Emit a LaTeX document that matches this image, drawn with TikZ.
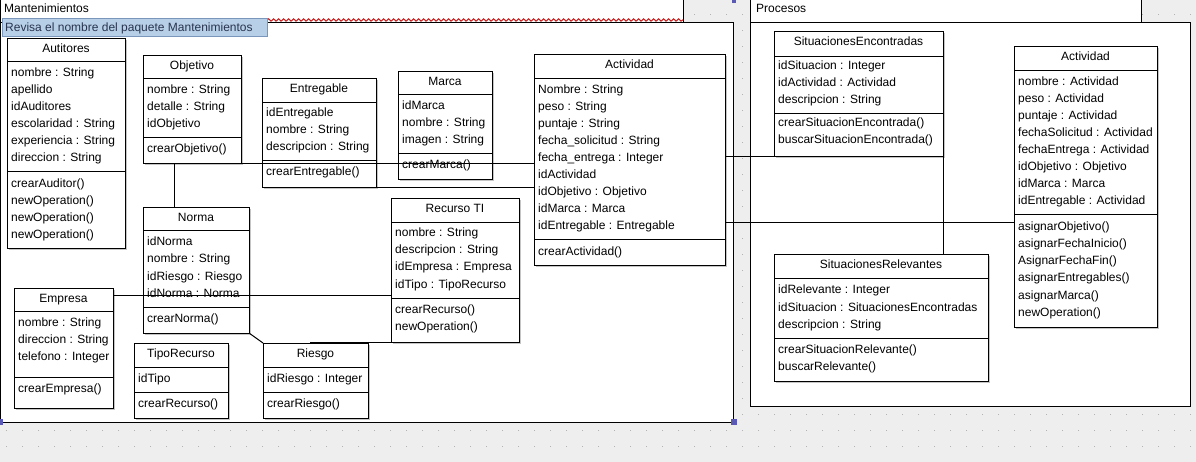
\documentclass[tikz,border=0pt]{standalone}
\usepackage{fontspec}
\setmainfont{Liberation Sans}
\usetikzlibrary{shadows,decorations.pathmorphing,calc}
\definecolor{bgcol}{RGB}{238,238,238}
\definecolor{dotcol}{RGB}{180,180,180}
\definecolor{notefill}{RGB}{184,207,232}
\definecolor{noteline}{RGB}{122,150,186}
\definecolor{notetext}{RGB}{40,52,80}
\definecolor{handle}{RGB}{90,90,180}
\definecolor{wavered}{RGB}{200,30,30}
\tikzset{
  umlfont/.style={font=\fontsize{12}{14}\selectfont},
  classbox/.style={draw=black, line width=1pt, fill=white, inner sep=0pt, outer sep=0pt,
    anchor=north west, drop shadow={shadow xshift=1.5pt, shadow yshift=-1.5pt, fill=black!45, opacity=0.5}},
  sepl/.style={draw=black, line width=1pt},
  rowtext/.style={umlfont, anchor=base west, inner sep=0pt},
  titletext/.style={umlfont, anchor=base, inner sep=0pt},
  conn/.style={draw=black, line width=1pt},
  pkgbox/.style={draw=black, line width=1pt, fill=white, inner sep=0pt, outer sep=0pt, anchor=north west},
  notebox/.style={draw=noteline, line width=1pt, fill=notefill, inner sep=0pt, outer sep=0pt, anchor=north west},
}
\newcommand\umlclass[8]{%
  \node[classbox, minimum width={(#4-#2)*1pt}, minimum height={(#5-#3)*1pt}] (#1) at (#2,#3) {};
  \draw[sepl] (#2,#6) -- (#4,#6);
  \draw[sepl] (#2,#7) -- (#4,#7);
  \node[titletext] (#1-t) at ({(#2+#4)/2},{#3+14}) {#8};
}
\newcommand\umlrows[4]{%
  \foreach \txt [count=\k] in {#4} {
    \node[rowtext] (#1\k) at ({#2+4},{#3+4+(\k-1)*17}) {\txt};
  }
}
\begin{document}
\begin{tikzpicture}[x=1pt,y=-1pt]
\useasboundingbox (0,0) rectangle (1196,462);
% background with dotted grid
\fill[bgcol] (0,0) rectangle (1196,462);
\foreach \x in {6,22,...,1196} {
  \foreach \y in {14,30,...,462} {
    \fill[dotcol] (\x,\y) rectangle ++(1,1);
  }
}
% package Mantenimientos
\node[pkgbox, minimum width=683pt, minimum height=26pt] (manttab) at (0.5,-3) {};
\node[pkgbox, minimum width=733pt, minimum height=399pt] (mant) at (0.5,23) {};
\node[rowtext] (manttxt) at (4,13) {Mantenimientos};
% package Procesos
\node[pkgbox, minimum width=391pt, minimum height=26pt] (proctab) at (750,-3) {};
\node[pkgbox, minimum width=440pt, minimum height=383pt] (proc) at (750,23) {};
\node[rowtext] (proctxt) at (756,13) {Procesos};
% warning note
\draw[wavered, line width=1pt, decorate, decoration={snake, amplitude=1.2pt, segment length=5pt}] (267,20) -- (683,20);
\node[notebox, minimum width=265pt, minimum height=18pt] (note) at (2,19) {};
\node[rowtext, text=notetext] (notetxt) at (5,32) {Revisa el nombre del paquete Mantenimientos};
% selection handles
\fill[handle] (731.5,0) rectangle (736,3);
\fill[handle] (731,419) rectangle (737,425);
\fill[handle] (0,419) rectangle (3,425);

% classes
\umlclass{aut}{7}{39}{125}{249}{62}{172}{Autitores}
\umlrows{aut-a}{7}{73}{nombre : String,apellido,idAuditores,escolaridad : String,experiencia : String,direccion : String}
\umlrows{aut-m}{7}{184}{crearAuditor(),newOperation(),newOperation(),newOperation()}

\umlclass{obj}{143}{56}{241}{164}{79}{138}{Objetivo}
\umlrows{obj-a}{143}{90}{nombre : String,detalle : String,idObjetivo}
\umlrows{obj-m}{143}{149}{crearObjetivo()}

\umlclass{ent}{262}{79}{376}{188}{103}{161}{Entregable}
\umlrows{ent-a}{262}{113}{idEntregable,nombre : String,descripcion : String}
\umlrows{ent-m}{262}{172}{crearEntregable()}

\umlclass{mar}{398}{72}{492}{180}{95}{154}{Marca}
\umlrows{mar-a}{398}{106}{idMarca,nombre : String,imagen : String}
\umlrows{mar-m}{398}{165}{crearMarca()}

\umlclass{actm}{534}{55}{725}{266}{79}{240}{Actividad}
\umlrows{actm-a}{534}{90}{Nombre : String,peso : String,puntaje : String,fecha\_solicitud : String,fecha\_entrega : Integer,idActividad,idObjetivo : Objetivo,idMarca : Marca,idEntregable : Entregable}
\umlrows{actm-m}{534}{251}{crearActividad()}

\umlclass{nor}{143}{208}{249}{333}{231}{307}{Norma}
\umlrows{nor-a}{143}{242}{idNorma,nombre : String,idRiesgo : Riesgo,idNorma : Norma}
\umlrows{nor-m}{143}{318}{crearNorma()}

\umlclass{rec}{391}{199}{519}{342}{223}{298}{Recurso TI}
\umlrows{rec-a}{391}{233}{nombre : String,descripcion : String,idEmpresa : Empresa,idTipo : TipoRecurso}
\umlrows{rec-m}{391}{309}{crearRecurso(),newOperation()}

\umlclass{emp}{14}{288}{113}{408}{311}{377}{Empresa}
\umlrows{emp-a}{14}{322}{nombre : String,direccion : String,telefono : Integer}
\umlrows{emp-m}{14}{388}{crearEmpresa()}

\umlclass{tip}{134}{343}{228}{418}{367}{392}{TipoRecurso}
\umlrows{tip-a}{134}{378}{idTipo}
\umlrows{tip-m}{134}{403}{crearRecurso()}

\umlclass{rie}{263}{343}{368}{418}{367}{392}{Riesgo}
\umlrows{rie-a}{263}{378}{idRiesgo : Integer}
\umlrows{rie-m}{263}{403}{crearRiesgo()}

\umlclass{sen}{774}{32}{943}{157}{57}{114}{SituacionesEncontradas}
\umlrows{sen-a}{774}{66}{idSituacion : Integer,idActividad : Actividad,descripcion : String}
\umlrows{sen-m}{774}{123}{crearSituacionEncontrada(),buscarSituacionEncontrada()}

\umlclass{actp}{1014}{47}{1157}{327}{71}{215}{Actividad}
\umlrows{actp-a}{1014}{82}{nombre : Actividad,peso : Actividad,puntaje : Actividad,fechaSolicitud : Actividad,fechaEntrega : Actividad,idObjetivo : Objetivo,idMarca : Marca,idEntregable : Actividad}
\umlrows{actp-m}{1014}{227}{asignarObjetivo(),asignarFechaInicio(),AsignarFechaFin(),asignarEntregables(),asignarMarca(),newOperation()}

\umlclass{srel}{774}{255}{988}{381}{279}{338}{SituacionesRelevantes}
\umlrows{srel-a}{774}{290}{idRelevante : Integer,idSituacion : SituacionesEncontradas,descripcion : String}
\umlrows{srel-m}{774}{349}{crearSituacionRelevante(),buscarRelevante()}

% connectors
\draw[conn] ([xshift=31pt]obj.south west) -- ([xshift=31pt]nor.north west);
\draw[conn] (obj.south east) -- (obj.south east -| actm.west);
\draw[conn] (ent.south east) -- (ent.south east -| actm.west);
\coordinate (e1) at ([yshift=-7pt]emp.north east);
\draw[conn] (e1) -- (e1 -| rec.west);
\draw[conn] (nor.south east) -- (rie.north west);
\coordinate (r1) at ([xshift=47pt]rie.north west);
\draw[conn] (r1 |- rec.south) -- (rec.south west);
\draw[conn] (sen.south west -| actm.east) -- (sen.south west);
\coordinate (a1) at ([yshift=-176pt]actp.north west);
\draw[conn] (a1 -| actm.east) -- (a1);
\draw[conn] (sen.south east) -- (sen.south east |- srel.north);
\end{tikzpicture}
\end{document}
